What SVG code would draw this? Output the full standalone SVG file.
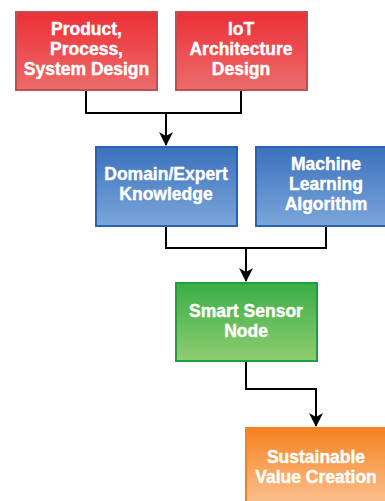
<svg xmlns="http://www.w3.org/2000/svg" width="385" height="501" viewBox="0 0 385 501">
<defs>
<linearGradient id="gRed" x1="0" y1="0" x2="0" y2="1"><stop offset="0" stop-color="#ec2f36"/><stop offset="1" stop-color="#ec6c6b"/></linearGradient>
<linearGradient id="gBlue" x1="0" y1="0" x2="0" y2="1"><stop offset="0" stop-color="#3a71bd"/><stop offset="1" stop-color="#7ba6da"/></linearGradient>
<linearGradient id="gGreen" x1="0" y1="0" x2="0" y2="1"><stop offset="0" stop-color="#3aae45"/><stop offset="1" stop-color="#8fcd72"/></linearGradient>
<linearGradient id="gOrange" x1="0" y1="0" x2="0" y2="1"><stop offset="0" stop-color="#f5821f"/><stop offset="1" stop-color="#fcc496"/></linearGradient>
<marker id="arr" markerWidth="16" markerHeight="16" refX="13" refY="8" orient="auto" markerUnits="userSpaceOnUse">
<path d="M0,1 L14,8 L0,15 L4,8 Z" fill="#000"/>
</marker>
</defs>
<style>
.red{fill:url(#gRed);stroke:#c0504f;stroke-width:2}
.blue{fill:url(#gBlue);stroke:#2b62b0;stroke-width:2}
.green{fill:url(#gGreen);stroke:#1f9e3c;stroke-width:2}
.orange{fill:url(#gOrange);stroke:#f5821f;stroke-width:2}
.t{font-family:"Liberation Sans",Arial,sans-serif;font-weight:bold;font-size:17.5px;fill:#fff;text-anchor:middle;stroke:#fff;stroke-width:0.4}
.c{fill:none;stroke:#000;stroke-width:2}
</style>
<g id="connectors">
<path class="c" d="M86,90 V113 H241 V90"/>
<path class="c" d="M166,113 V145" marker-end="url(#arr)"/>
<path class="c" d="M166,226 V248 H326 V226"/>
<path class="c" d="M246,248 V281" marker-end="url(#arr)"/>
<path class="c" d="M246,361 V389 H316 V426" marker-end="url(#arr)"/>
</g>
<g id="n1">
<rect class="red" x="16" y="12" width="141" height="78"/>
<text class="t" x="86.5" y="35">Product,</text>
<text class="t" x="86.5" y="55">Process,</text>
<text class="t" x="86.5" y="75">System Design</text>
</g>
<g id="n2">
<rect class="red" x="176" y="12" width="131" height="78"/>
<text class="t" x="241" y="35">IoT</text>
<text class="t" x="241" y="55">Architecture</text>
<text class="t" x="241" y="75">Design</text>
</g>
<g id="n3">
<rect class="blue" x="96" y="147" width="141" height="79"/>
<text class="t" x="166" y="180">Domain/Expert</text>
<text class="t" x="166" y="200">Knowledge</text>
</g>
<g id="n4">
<rect class="blue" x="256" y="147" width="141" height="79"/>
<text class="t" x="326" y="170">Machine</text>
<text class="t" x="326" y="190">Learning</text>
<text class="t" x="326" y="210">Algorithm</text>
</g>
<g id="n5">
<rect class="green" x="176" y="283" width="141" height="78"/>
<text class="t" x="246" y="317">Smart Sensor</text>
<text class="t" x="246" y="337">Node</text>
</g>
<g id="n6">
<rect class="orange" x="246" y="428" width="141" height="80"/>
<text class="t" x="316" y="463">Sustainable</text>
<text class="t" x="316" y="483">Value Creation</text>
</g>
</svg>
